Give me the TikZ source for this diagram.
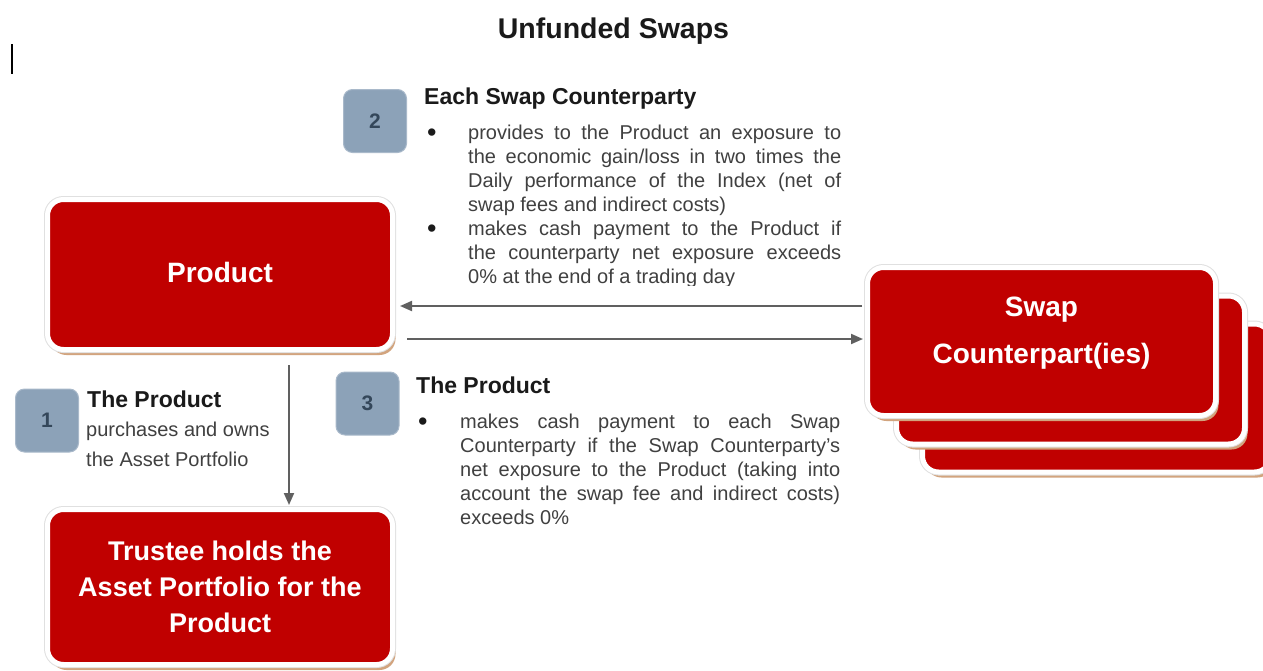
\documentclass[tikz,border=0pt]{standalone}
\usepackage{fontspec}
\setmainfont{Liberation Sans}
\usetikzlibrary{arrows.meta,shadows}
\definecolor{boxred}{HTML}{C00000}
\definecolor{shtan}{HTML}{D2A47E}
\definecolor{numfill}{HTML}{8CA2B8}
\definecolor{numtext}{HTML}{34475A}
\definecolor{arrowgray}{HTML}{606060}
\definecolor{bodygray}{HTML}{404040}
\definecolor{headblack}{HTML}{1A1A1A}
\newcommand\jline[2]{\makebox[#1][s]{#2}}
\newcommand\bigbullet{\raisebox{-2.5pt}{\scalebox{1.35}{•}}}
\begin{document}
\begin{tikzpicture}[x=1pt,y=-1pt,
  redbox/.style={rectangle, rounded corners=16pt, fill=boxred, draw=white, line width=5pt,
    inner sep=0pt, text=white, font=\bfseries\fontsize{28}{34}\selectfont, align=center,
    drop shadow={shadow xshift=3pt, shadow yshift=-5.5pt, fill=shtan, opacity=1},
    preaction={draw=black!12, line width=7pt}},
  numbox/.style={rectangle, rounded corners=9pt, fill=numfill, draw=numfill!75!white, line width=1pt,
    minimum width=63pt, minimum height=63pt, inner sep=0pt, text=numtext,
    font=\bfseries\fontsize{21}{25}\selectfont},
  arr/.style={draw=arrowgray, line width=2pt, -{Triangle[length=12pt,width=10pt]}},
  body/.style={anchor=base west, inner sep=0pt, text=bodygray, font=\fontsize{20}{24}\selectfont},
  bul/.style={anchor=base west, inner sep=0pt, text=headblack, font=\fontsize{20}{24}\selectfont},
  head/.style={anchor=base west, inner sep=0pt, text=headblack, font=\bfseries\fontsize{23}{27}\selectfont}]
\useasboundingbox (0,0) rectangle (1263,670);
\fill[white] (0,0) rectangle (1263,670);

% title and cursor mark
\node[anchor=base, inner sep=0pt, text=headblack, font=\bfseries\fontsize{28.5}{32}\selectfont] (title) at (613.5,38) {Unfunded Swaps};
\draw[line width=1.2pt] (12,44) -- (12,74);

% swap counterparties stack
\node[redbox, minimum width=348pt, minimum height=148pt] (sw3) at (1096.5,398) {};
\node[redbox, minimum width=348pt, minimum height=148pt] (sw2) at (1070.5,370) {};
\node[redbox, minimum width=348pt, minimum height=148pt] (sw1) at (1041.5,341.5) {};
\node[inner sep=0pt, text=white, align=center, font=\bfseries\fontsize{28}{47}\selectfont] (swtext) at (1041.5,333) {Swap\\Counterpart(ies)};

% product and trustee
\node[redbox, minimum width=345pt, minimum height=150pt] (prod) at (220,274.5) {\raisebox{4.5pt}{Product}};
\node[redbox, minimum width=345pt, minimum height=155pt, font=\bfseries\fontsize{27}{36}\selectfont] (trust) at (220,587) {Trustee holds the\\Asset Portfolio for the\\Product};

% number boxes
\node[numbox] (n2) at (375,121) {2};
\node[numbox] (n3) at (367.5,403.5) {3};
\node[numbox] (n1) at (47,420.5) {1};

% block 2
\node[head] (h2) at (424,104) {Each Swap Counterparty};
\node[bul] (b2a) at (427,139) {\bigbullet};
\node[body] (t2a) at (468,139) {\jline{373pt}{provides to the Product an exposure to}};
\node[body] (t2b) at (468,163) {\jline{373pt}{the economic gain/loss in two times the}};
\node[body] (t2c) at (468,187) {\jline{373pt}{Daily performance of the Index (net of}};
\node[body] (t2d) at (468,211) {swap fees and indirect costs)};
\node[bul] (b2b) at (427,235) {\bigbullet};
\node[body] (t2e) at (468,235) {\jline{373pt}{makes cash payment to the Product if}};
\node[body] (t2f) at (468,259) {\jline{373pt}{the counterparty net exposure exceeds}};
\begin{scope}
\clip (400,240) rectangle (900,285.5);
\node[body] (t2g) at (468,283) {0\% at the end of a trading day};
\end{scope}

% block 3
\node[head] (h3) at (416,393) {The Product};
\node[bul] (b3a) at (418,428) {\bigbullet};
\node[body] (t3a) at (460,428) {\jline{380pt}{makes cash payment to each Swap}};
\node[body] (t3b) at (460,452) {\jline{380pt}{Counterparty if the Swap Counterparty’s}};
\node[body] (t3c) at (460,476) {\jline{380pt}{net exposure to the Product (taking into}};
\node[body] (t3d) at (460,500) {\jline{380pt}{account the swap fee and indirect costs)}};
\node[body] (t3e) at (460,524) {exceeds 0\%};

% block 1
\node[head] (h1) at (87,407) {The Product};
\node[body] (t1a) at (86,436) {purchases and owns};
\node[body] (t1b) at (86,466) {the Asset Portfolio};

% connectors
\coordinate (yA) at (0,306);
\coordinate (yB) at (0,339);
\coordinate (xV) at (289,0);
\draw[arr, shorten <=3pt, shorten >=5pt] (sw1.west |- yA) -- (prod.east |- yA);
\draw[arr, shorten <=12pt, shorten >=2pt] (prod.east |- yB) -- (sw1.west |- yB);
\draw[arr, shorten <=13pt, shorten >=2pt] (prod.south -| xV) -- (trust.north -| xV);
\end{tikzpicture}
\end{document}
